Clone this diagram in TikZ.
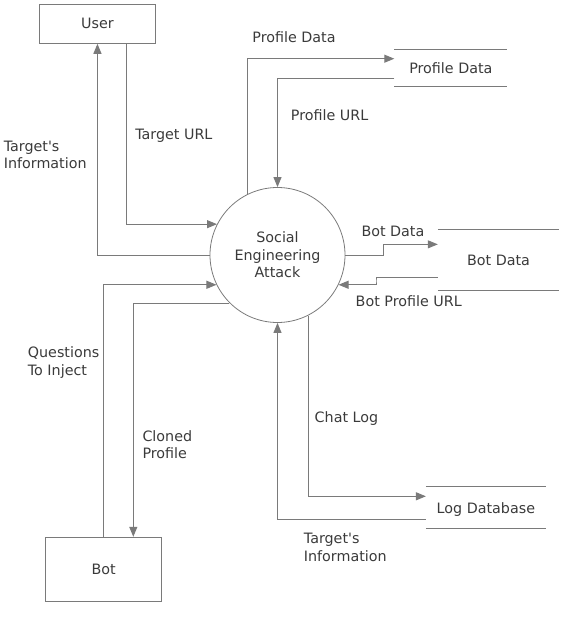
\documentclass[tikz,border=0pt]{standalone}
\usepackage{fontspec}
\setmainfont{DejaVu Sans}
\usetikzlibrary{arrows.meta,calc}
\definecolor{linegray}{HTML}{7A7A7A}
\definecolor{textgray}{HTML}{3A3A3A}
\begin{document}
\begin{tikzpicture}[x=1pt,y=-1pt,
  every node/.style={font=\fontsize{14.3}{17.6}\selectfont, text=textgray},
  entity/.style={draw=linegray, line width=1pt, inner sep=0, rectangle},
  process/.style={draw=linegray, line width=0.8pt, circle, minimum size=135, inner sep=0, align=center},
  store/.style={inner sep=0, rectangle, text height=10.9pt, text depth=0pt},
  flow/.style={draw=linegray, line width=1pt, -{Triangle[length=10pt,width=8pt]}, fill=none},
  lbl/.style={inner sep=0, anchor=base west},
  mlbl/.style={inner sep=0, anchor=north west, align=left}]
\useasboundingbox (0,0) rectangle (563,626);

% nodes
\node[entity, minimum width=115.7, minimum height=39] (user) at (97.45,23.8) {User};
\node[entity, minimum width=116, minimum height=64.4] (bot) at (103.7,569.5) {Bot};
\node[process] (sea) at (277.5,255) {Social\\Engineering\\Attack};
\node[store, minimum width=112.7, minimum height=36] (pd) at (450.85,68) {Profile Data};
\node[store, minimum width=121, minimum height=60.7] (bd) at (498.5,260.35) {Bot Data};
\node[store, minimum width=119.6, minimum height=42] (log) at (485.9,507.7) {Log Database};

% store lines
\foreach \s in {pd,bd,log}{
  \draw[linegray, line width=1pt] (\s.north west) -- (\s.north east);
  \draw[linegray, line width=1pt] (\s.south west) -- (\s.south east);
}

% bend coordinates
\coordinate (bd1) at (383.6,250);
\coordinate (bp1) at (376,281);

% connectors
\draw[flow] (sea.west) -| (user.south);
\draw[flow] ($(user.south)+(28.7,0)$) |- (sea.153);
\draw[flow] (sea.116.8) |- ($(pd.west)+(0,-9.3)$);
\draw[flow] ($(pd.west)+(0,10.7)$) -| (sea.north);
\draw[flow] (sea.east) -| (bd1) |- ($(bd.west)+(0,-16)$);
\draw[flow] ($(bd.west)+(0,17)$) -| (bp1) |- (sea.-26.7);
\draw[flow] (bot.north) |- (sea.206.7);
\draw[flow] (sea.225) -| ($(bot.north)+(29.6,0)$);
\draw[flow] (sea.-63.1) |- ($(log.west)+(0,-11.4)$);
\draw[flow] ($(log.west)+(0,11.6)$) -| (sea.south);

% labels
\node[lbl] (lpd) at (252.2,43) {Profile Data};
\node[lbl] (lpu) at (290.7,120.3) {Profile URL};
\node[lbl] (ltu) at (135.1,139.6) {Target URL};
\node[mlbl] (lti) at (3.6,140.6) {Target\textquotesingle s\\Information};
\node[lbl] (lbd) at (361.3,236) {Bot Data};
\node[lbl] (lbp) at (355.5,306.3) {Bot Profile URL};
\node[mlbl] (lqi) at (27.7,346.9) {Questions\\To Inject};
\node[mlbl] (lcp) at (142.3,430.3) {Cloned\\Profile};
\node[lbl] (lcl) at (314.5,422) {Chat Log};
\node[mlbl] (lti2) at (303.7,533.3) {Target\textquotesingle s\\Information};
\end{tikzpicture}
\end{document}
